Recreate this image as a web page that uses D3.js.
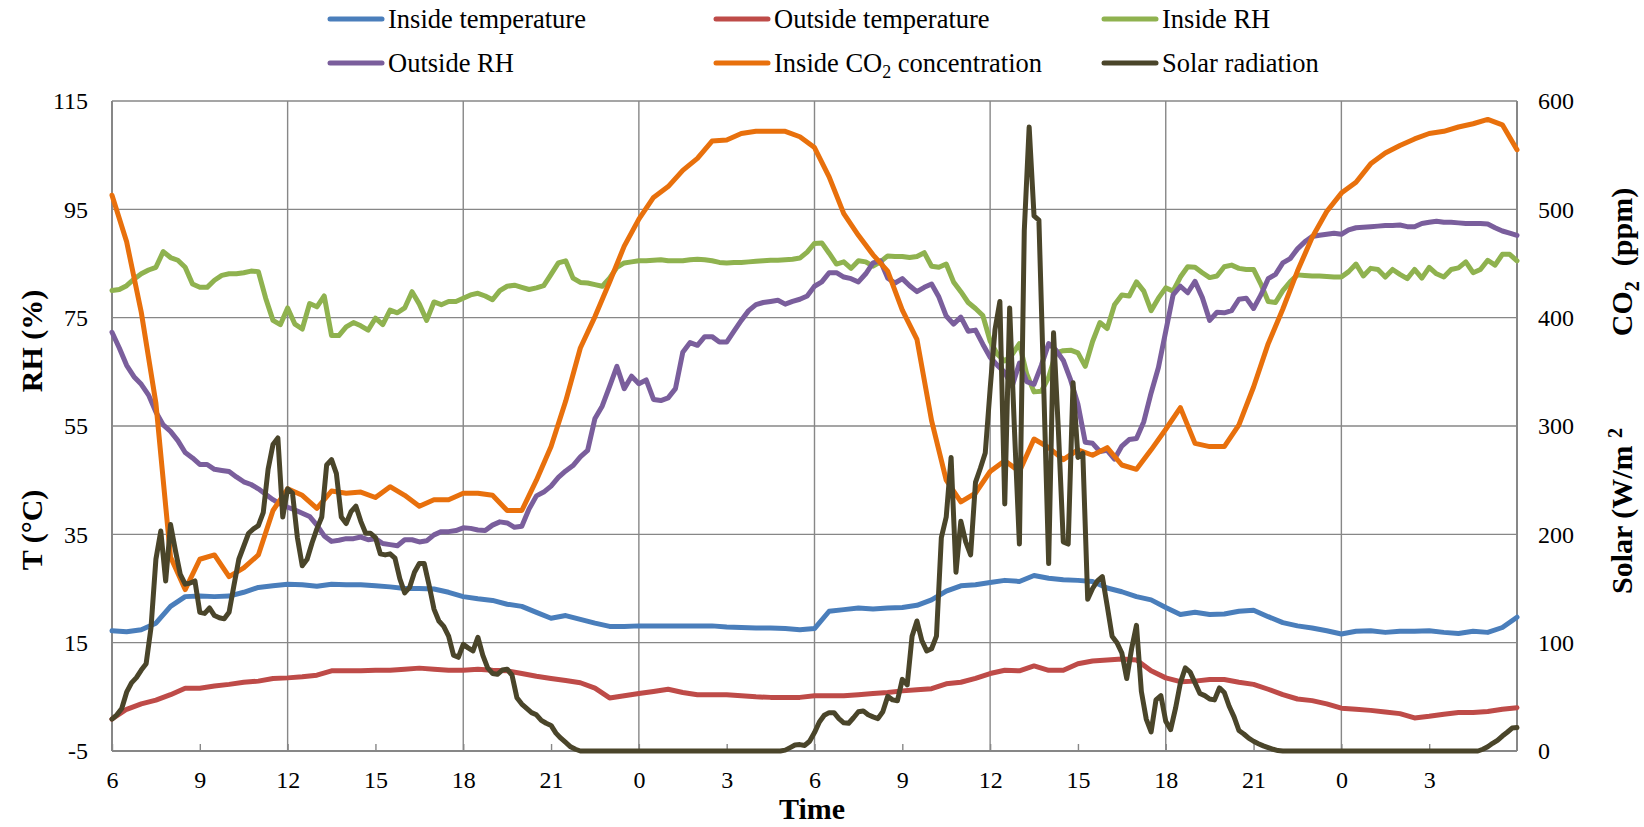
<!DOCTYPE html>
<html>
<head>
<meta charset="utf-8">
<script src="https://cdn.jsdelivr.net/npm/d3@7"></script>
<style>
  html, body { margin: 0; padding: 0; background: #fff; }
  svg { display: block; }
  svg text { font-family: "Liberation Serif", "Times New Roman", serif !important; fill: #000; }
</style>
</head>
<body>
<svg id="chart" width="1644" height="827"></svg>
<script>
// Hours elapsed since 06:00 on the first day; readings every 30 min, 15 min and 10 min.
const stepHalfHour = 0.5, stepQuarterHour = 0.25, stepTenMin = 1 / 6;

// Inside temperature (°C), every 30 min
const insideTemp = [
  17.2, 17.0, 17.4, 18.6, 21.7, 23.5, 23.6, 23.5, 23.6, 24.3, 25.2, 25.5, 25.8, 25.7, 25.4, 25.8, 25.7,
  25.7, 25.5, 25.3, 25.0, 25.0, 24.9, 24.3, 23.5, 23.1, 22.8, 22.1, 21.7, 20.6, 19.5, 20.0, 19.3,
  18.6, 18.0, 18.0, 18.1, 18.1, 18.1, 18.1, 18.1, 18.1, 17.9, 17.8, 17.7, 17.7, 17.6, 17.4, 17.6,
  20.8, 21.1, 21.4, 21.2, 21.4, 21.5, 21.9, 22.9, 24.5, 25.5, 25.7, 26.1, 26.5, 26.3, 27.4, 26.9,
  26.6, 26.5, 26.3, 25.1, 24.4, 23.5, 22.9, 21.5, 20.2, 20.6, 20.2, 20.3, 20.8, 21.0, 19.8, 18.7,
  18.1, 17.7, 17.2, 16.6, 17.1, 17.2, 16.9, 17.1, 17.1, 17.2, 16.9, 16.7, 17.1, 16.9, 17.8, 19.7
];

// Outside temperature (°C), every 30 min
const outsideTemp = [
  0.9, 2.7, 3.7, 4.4, 5.4, 6.6, 6.6, 7.0, 7.3, 7.7, 7.9, 8.4, 8.5, 8.7, 9.0, 9.8, 9.8,
  9.8, 9.9, 9.9, 10.1, 10.3, 10.1, 9.9, 9.9, 10.1, 9.9, 9.8, 9.3, 8.8, 8.4, 8.0, 7.6,
  6.6, 4.8, 5.2, 5.6, 6.0, 6.4, 5.8, 5.4, 5.4, 5.4, 5.2, 5.0, 4.9, 4.9, 4.9, 5.2,
  5.2, 5.2, 5.4, 5.6, 5.8, 6.1, 6.3, 6.5, 7.4, 7.7, 8.4, 9.3, 9.9, 9.8, 10.7, 9.9,
  9.9, 11.1, 11.6, 11.8, 12.0, 11.8, 9.8, 8.5, 7.8, 7.9, 8.2, 8.2, 7.7, 7.3, 6.4, 5.4,
  4.6, 4.3, 3.7, 2.9, 2.7, 2.5, 2.2, 1.9, 1.1, 1.4, 1.8, 2.1, 2.1, 2.3, 2.7, 3.0
];

// Inside CO2 concentration (ppm), every 30 min
const insideCO2 = [
  513, 470, 405, 321, 179, 149, 177, 181, 161, 169, 181, 222, 242, 236, 224, 240, 238,
  239, 234, 244, 236, 226, 232, 232, 238, 238, 236, 222, 222, 250, 281, 323, 372,
  401, 433, 466, 491, 511, 521, 536, 547, 563, 564, 570, 572, 572, 572, 567, 557,
  530, 496, 476, 458, 443, 407, 380, 305, 250, 230, 238, 258, 268, 258, 288, 280,
  269, 278, 273, 280, 264, 260, 278, 297, 317, 284, 281, 281, 301, 336, 376, 408,
  443, 474, 498, 515, 525, 542, 552, 559, 565, 570, 572, 576, 579, 583, 578, 555
];

// Inside relative humidity (%), every 15 min
const insideRH = [
  80.0, 80.2, 80.9, 82.1, 83.1, 83.8, 84.3, 87.2, 86.1, 85.6, 84.3, 81.2, 80.6, 80.6, 81.9, 82.8, 83.1,
  83.1, 83.3, 83.6, 83.5, 78.6, 74.5, 73.7, 76.8, 73.8, 72.9, 77.6, 77.0, 79.0, 71.7, 71.7, 73.3,
  74.1, 73.5, 72.7, 74.9, 73.7, 76.4, 75.9, 76.8, 79.8, 77.5, 74.5, 77.9, 77.4, 78.0, 78.0, 78.6,
  79.2, 79.5, 79.0, 78.3, 80.0, 80.8, 81.0, 80.6, 80.2, 80.5, 80.9, 83.0, 85.1, 85.5, 82.3, 81.5,
  81.4, 81.1, 80.8, 82.3, 84.3, 85.1, 85.3, 85.5, 85.5, 85.6, 85.7, 85.5, 85.5, 85.5, 85.7, 85.8,
  85.7, 85.5, 85.2, 85.1, 85.2, 85.2, 85.3, 85.4, 85.5, 85.6, 85.6, 85.7, 85.8, 86.0, 87.1, 88.7,
  88.8, 86.9, 84.9, 85.3, 84.1, 85.5, 85.3, 84.5, 85.3, 86.4, 86.3, 86.3, 86.1, 86.3, 87.0, 84.5,
  84.3, 84.9, 81.6, 79.8, 77.8, 76.7, 75.4, 70.7, 68.2, 67.0, 68.2, 70.2, 64.6, 61.3, 61.4, 64.0,
  68.5, 68.9, 69.0, 68.5, 66.0, 70.6, 74.1, 73.0, 77.4, 79.2, 79.0, 81.6, 79.9, 76.3, 78.6, 80.5,
  79.9, 82.5, 84.4, 84.3, 83.3, 82.4, 82.7, 84.4, 84.7, 84.1, 83.9, 83.9, 81.2, 78.0, 77.8, 80.0,
  81.6, 82.9, 82.8, 82.7, 82.7, 82.6, 82.5, 82.5, 83.5, 84.9, 82.7, 84.1, 83.9, 82.5, 83.9, 83.0,
  82.2, 83.9, 82.3, 84.3, 83.1, 82.5, 83.9, 84.2, 85.3, 83.3, 83.9, 85.6, 84.7, 86.7, 86.7, 85.5
];

// Outside relative humidity (%), every 15 min
const outsideRH = [
  72.3, 69.4, 66.2, 64.1, 62.7, 60.7, 57.6, 55.2, 54.0, 52.3, 50.1, 49.1, 47.9, 47.9, 47.0, 46.8, 46.6,
  45.6, 44.7, 44.2, 43.4, 42.4, 41.4, 40.6, 40.0, 39.5, 38.9, 38.3, 36.7, 34.7, 33.7, 33.9, 34.2,
  34.2, 34.5, 34.0, 34.2, 33.3, 33.1, 32.9, 34.0, 34.0, 33.6, 33.8, 34.9, 35.5, 35.5, 35.7, 36.2,
  36.1, 35.8, 35.7, 36.7, 37.3, 37.1, 36.3, 36.5, 39.7, 42.1, 42.8, 43.9, 45.5, 46.7, 47.7, 49.3,
  50.5, 56.4, 58.7, 62.3, 66.0, 61.9, 64.2, 62.8, 63.5, 59.9, 59.7, 60.2, 61.9, 68.6, 70.4, 69.9,
  71.5, 71.5, 70.5, 70.5, 72.5, 74.5, 76.3, 77.4, 77.8, 78.0, 78.2, 77.5, 78.0, 78.4, 79.0, 80.8,
  81.6, 83.3, 83.3, 82.5, 82.2, 81.6, 83.1, 85.1, 85.5, 82.3, 81.4, 82.2, 80.9, 79.8, 80.6, 81.2,
  78.8, 75.3, 73.8, 75.1, 72.5, 72.7, 70.1, 67.7, 66.2, 64.9, 62.3, 66.6, 63.2, 62.7, 66.2, 70.2,
  69.0, 67.1, 63.5, 59.0, 52.0, 51.8, 50.3, 50.5, 48.9, 51.3, 52.5, 52.7, 55.8, 61.1, 65.8, 72.5,
  79.2, 80.8, 79.6, 81.7, 78.7, 74.5, 76.0, 75.9, 76.3, 78.4, 78.6, 76.7, 79.2, 82.2, 83.0, 85.1,
  85.9, 87.7, 89.0, 90.0, 90.2, 90.4, 90.6, 90.4, 91.2, 91.6, 91.7, 91.8, 91.9, 92.0, 92.0, 92.1,
  91.8, 91.8, 92.4, 92.6, 92.8, 92.6, 92.6, 92.5, 92.4, 92.4, 92.4, 92.3, 91.6, 91.0, 90.6, 90.2
];

// Solar radiation (W/m²), every 10 min
const solarRadiation = [
  29.5, 33.4, 39.3, 54.3, 62.9, 67.7, 74.7, 80.6, 114, 177, 203, 157, 209, 185, 163, 154, 155, 157,
  128, 127, 132, 125, 123, 122, 128, 153, 177, 189, 201, 205, 208, 220, 260, 283, 289, 216, 242, 238,
  197, 171, 177, 192, 205, 216, 264, 269, 256, 216, 210,
  221, 226, 212, 201, 201, 197, 182, 181, 182, 178, 159, 146, 151, 165, 173, 173, 153, 131,
  120, 115, 106, 88.5, 86.5, 98.4, 95.2, 92.4, 105, 88.5, 76.7, 71.6, 70.8, 74.7, 75.5, 70.0,
  49.2, 43.3, 39.3, 35.4, 33.4, 28.3, 25.6, 23.6, 16.5, 11.8, 7.9, 3.9, 1.6, 0,
  0, 0, 0, 0, 0, 0, 0, 0, 0, 0, 0, 0, 0, 0, 0, 0, 0, 0, 0, 0,
  0, 0, 0, 0, 0, 0, 0, 0, 0, 0, 0, 0, 0, 0, 0, 0, 0, 0, 0, 0, 0,
  0.8, 3.1, 5.5, 5.9, 5.1, 9.0,
  17, 26.8, 33.0, 35.4, 35.4, 29.9, 26.0, 25.6, 30.7, 36.2, 37.0, 33.4, 31.5, 29.9, 36.2, 50.4,
  47.2, 46.4, 66.1, 61, 106, 120, 102, 92.4, 94.4, 106, 197, 216, 271, 165, 212, 193, 181, 248, 261, 275,
  334, 389, 415, 228, 409, 295, 191, 480, 576, 494, 490, 334, 173, 386, 295, 193, 191, 340, 271, 275,
  140, 150, 157, 161, 134, 106, 100, 90.5, 66.9, 94.4, 116, 55, 29.5, 17.7, 47.2, 51.1, 27.5, 19.7,
  39.3, 62.9, 76.7, 72.8, 62.9, 53.1, 51.1, 48.0, 47.2, 58.2, 54, 41.3, 31.5, 18.9, 15.7, 11.8, 9.0,
  6.7, 4.7, 3.1, 1.6, 0.4, 0,
  0, 0, 0, 0, 0, 0, 0, 0, 0, 0, 0, 0, 0, 0, 0, 0, 0, 0, 0, 0,
  0, 0, 0, 0, 0, 0, 0, 0, 0, 0, 0, 0, 0, 0, 0, 0, 0, 0, 0, 0,
  1.6, 3.9, 7.1, 9.8, 13.8, 17.3, 21.2, 21.6
];

// Axis ticks
const hourTicks = [0, 3, 6, 9, 12, 15, 18, 21, 24, 27, 30, 33, 36, 39, 42, 45];
const hourGrid = [6, 12, 18, 24, 30, 36, 42];
const leftTicks = [-5, 15, 35, 55, 75, 95, 115];
const rightTicks = [0, 100, 200, 300, 400, 500, 600];

const series = [
  { name: "Inside temperature",  values: insideTemp,     step: stepHalfHour,    axis: "left",  color: "#4A7EBB" },
  { name: "Outside temperature", values: outsideTemp,    step: stepHalfHour,    axis: "left",  color: "#BE4B48" },
  { name: "Inside RH",           values: insideRH,       step: stepQuarterHour, axis: "left",  color: "#8FB24F" },
  { name: "Outside RH",          values: outsideRH,      step: stepQuarterHour, axis: "left",  color: "#7A5E9C" },
  { name: "Inside CO2 concentration", values: insideCO2, step: stepHalfHour,    axis: "right", color: "#E8700C" },
  { name: "Solar radiation",     values: solarRadiation, step: stepTenMin,      axis: "right", color: "#4A452A" }
];

const FONT = "Liberation Serif, Times New Roman, serif";
const plot = { left: 112, right: 1517, top: 101, bottom: 751 };
const gridColor = "#878787";

const svg = d3.select("#chart");

const x = d3.scaleLinear().domain([0, 48]).range([plot.left, plot.right]);
const yL = d3.scaleLinear().domain([-5, 115]).range([plot.bottom, plot.top]);
const yR = d3.scaleLinear().domain([0, 600]).range([plot.bottom, plot.top]);

// Grid
const grid = svg.append("g");
grid.selectAll("line.h").data(leftTicks).join("line")
  .attr("x1", plot.left).attr("x2", plot.right)
  .attr("y1", d => yL(d)).attr("y2", d => yL(d))
  .attr("stroke", gridColor).attr("stroke-width", 1.4);
grid.selectAll("line.v").data(hourGrid).join("line")
  .attr("x1", d => x(d)).attr("x2", d => x(d))
  .attr("y1", plot.top).attr("y2", plot.bottom)
  .attr("stroke", gridColor).attr("stroke-width", 1.4);

// Axis frame lines
[[plot.left, plot.top, plot.left, plot.bottom],
 [plot.right, plot.top, plot.right, plot.bottom],
 [plot.left, plot.bottom, plot.right, plot.bottom]].forEach(([x1, y1, x2, y2]) => {
  svg.append("line").attr("x1", x1).attr("y1", y1).attr("x2", x2).attr("y2", y2)
    .attr("stroke", gridColor).attr("stroke-width", 2);
});

// Bottom axis: hour of day, ticks every 3 h pointing into the plot
const xAxis = d3.axisBottom(x).tickValues(hourTicks)
  .tickFormat(h => String((6 + h) % 24)).tickSizeInner(-7).tickSizeOuter(0).tickPadding(20);
const gx = svg.append("g").attr("transform", `translate(0,${plot.bottom})`).call(xAxis)
  .attr("font-family", FONT);
gx.select(".domain").remove();
gx.selectAll(".tick line").attr("stroke", gridColor).attr("stroke-width", 1.4);
gx.selectAll(".tick text").attr("font-size", 24).attr("font-family", FONT);

const yAxisL = d3.axisLeft(yL).tickValues(leftTicks).tickFormat(d => String(d)).tickSize(0).tickPadding(24);
const gyl = svg.append("g").attr("transform", `translate(${plot.left},0)`).call(yAxisL)
  .attr("font-family", FONT);
gyl.select(".domain").remove();
gyl.selectAll(".tick text").attr("font-size", 24).attr("font-family", FONT);

const yAxisR = d3.axisRight(yR).tickValues(rightTicks).tickFormat(d => String(d)).tickSize(0).tickPadding(21);
const gyr = svg.append("g").attr("transform", `translate(${plot.right},0)`).call(yAxisR)
  .attr("font-family", FONT);
gyr.select(".domain").remove();
gyr.selectAll(".tick text").attr("font-size", 24).attr("font-family", FONT);

// Data lines
const lines = svg.append("g");
series.forEach(s => {
  const yScale = s.axis === "left" ? yL : yR;
  const line = d3.line()
    .x((d, i) => x(i * s.step))
    .y(d => yScale(d));
  lines.append("path")
    .datum(s.values)
    .attr("d", line)
    .attr("fill", "none")
    .attr("stroke", s.color)
    .attr("stroke-width", 5)
    .attr("stroke-linejoin", "round")
    .attr("stroke-linecap", "round");
});

// Axis titles
const TITLE_SIZE = 30;
const title = (txt, tx, ty, rot) => svg.append("text")
  .attr("transform", `translate(${tx},${ty}) rotate(${rot})`)
  .attr("text-anchor", "middle").attr("dy", "0.35em").attr("font-family", FONT)
  .attr("font-size", TITLE_SIZE).attr("font-weight", "bold").text(txt);

title("RH (%)", 31, 341, -90);
title("T (°C)", 31, 530, -90);
svg.append("text").attr("x", 812).attr("y", 819).attr("text-anchor", "middle").attr("font-family", FONT)
  .attr("font-size", TITLE_SIZE).attr("font-weight", "bold").text("Time");

const co2Title = svg.append("text")
  .attr("transform", "translate(1621,262) rotate(-90)")
  .attr("text-anchor", "middle").attr("dy", "0.35em").attr("font-family", FONT)
  .attr("font-size", TITLE_SIZE).attr("font-weight", "bold");
co2Title.append("tspan").text("CO");
co2Title.append("tspan").attr("font-size", 20).attr("dy", 7).text("2");
co2Title.append("tspan").attr("dy", -7).text("\u00a0\u00a0(ppm)");

const solarTitle = svg.append("text")
  .attr("transform", "translate(1621,511) rotate(-90)")
  .attr("text-anchor", "middle").attr("dy", "0.35em").attr("font-family", FONT)
  .attr("font-size", TITLE_SIZE).attr("font-weight", "bold");
solarTitle.append("tspan").text("Solar (W/m ");
solarTitle.append("tspan").attr("font-size", 20).attr("dy", -10).text("2");

// Legend: two rows of three entries
const legendCols = [330, 716, 1104];
const legendRows = [19, 63];
series.forEach((s, i) => {
  const lx = legendCols[i % 3], ly = legendRows[Math.floor(i / 3)];
  svg.append("line").attr("x1", lx).attr("x2", lx + 52).attr("y1", ly).attr("y2", ly)
    .attr("stroke", s.color).attr("stroke-width", 5).attr("stroke-linecap", "round");
  const t = svg.append("text").attr("x", lx + 58).attr("y", ly).attr("dy", "0.35em")
    .attr("font-family", FONT).attr("font-size", 26.5);
  if (s.name.includes("CO2")) {
    t.append("tspan").text("Inside CO");
    t.append("tspan").attr("font-size", 18).attr("dy", 6).text("2");
    t.append("tspan").attr("dy", -6).text(" concentration");
  } else {
    t.text(s.name);
  }
});
</script>
</body>
</html>
